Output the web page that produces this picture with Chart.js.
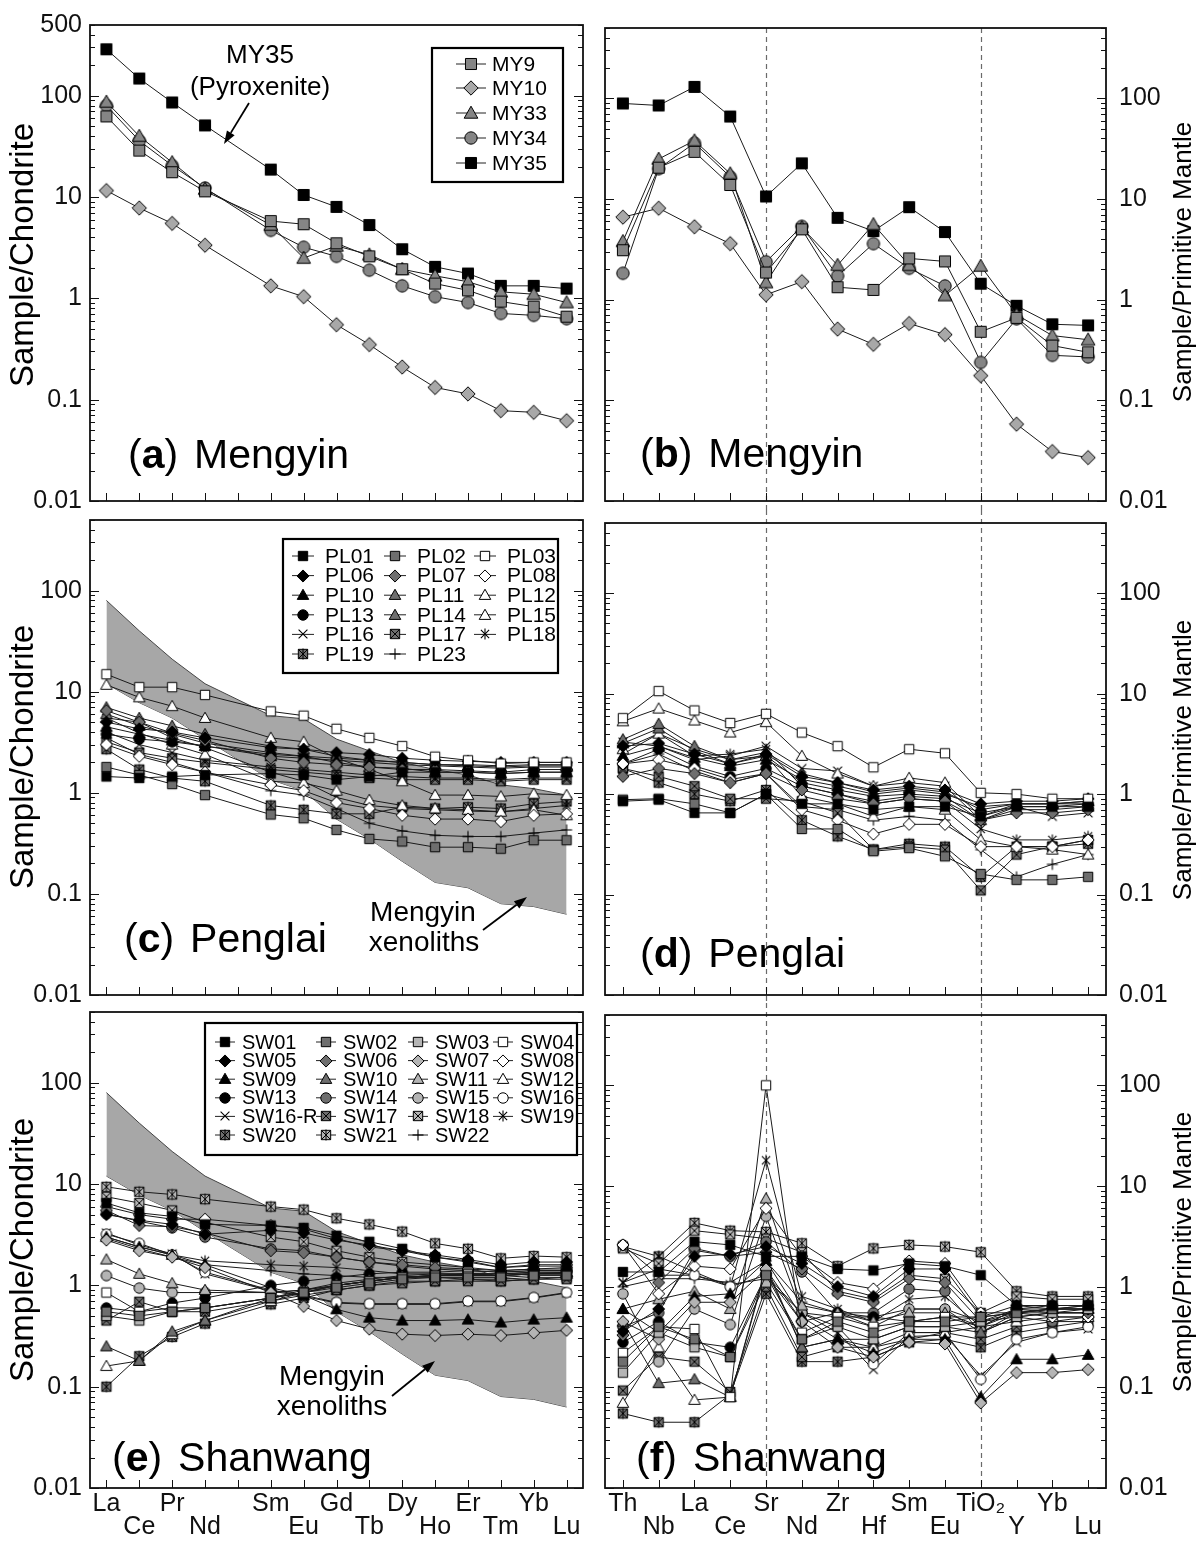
<!DOCTYPE html>
<html><head><meta charset="utf-8">
<script src="https://cdn.jsdelivr.net/npm/chart.js@4.4.1/dist/chart.umd.min.js"></script>
<style>
html,body{margin:0;padding:0;background:#fff;}
#wrap{position:relative;width:1204px;height:1545px;overflow:hidden;background:#fff;}
canvas{position:absolute;}
</style></head><body><div id="wrap">
<canvas id="ca"></canvas><canvas id="cb"></canvas><canvas id="cc"></canvas>
<canvas id="cd"></canvas><canvas id="ce"></canvas><canvas id="cf"></canvas>
</div>
<script>
// ---------- categories & tick labels ----------
const reeCats = ['La','Ce','Pr','Nd','Pm','Sm','Eu','Gd','Tb','Dy','Ho','Er','Tm','Yb','Lu'];
const reeTickRows = [['La',''],['','Ce'],['Pr',''],['','Nd'],['',''],['Sm',''],['','Eu'],['Gd',''],['','Tb'],['Dy',''],['','Ho'],['Er',''],['','Tm'],['Yb',''],['','Lu']];
const spiderCats = ['Th','Nb','La','Ce','Sr','Nd','Zr','Hf','Sm','Eu','TiO2','Y','Yb','Lu'];
const spiderTickRows = [['Th',''],['','Nb'],['La',''],['','Ce'],['Sr',''],['','Nd'],['Zr',''],['','Hf'],['Sm',''],['','Eu'],['TiO\u2082',''],['','Y'],['Yb',''],['','Lu']];
const yTicksTop = [0.01,0.1,1,10,100,500];
const yTicks = [0.01,0.1,1,10,100];

// ---------- Mengyin (a: chondrite-normalised REE, b: primitive-mantle spider) ----------
const MY9_ree  = [62.6,28.8,17.6,11.4,null,5.8,5.4,3.5,2.6,1.94,1.4,1.2,0.93,0.83,0.66];
const MY10_ree = [11.6,7.8,5.5,3.35,null,1.33,1.04,0.55,0.35,0.21,0.132,0.114,0.078,0.075,0.062];
const MY33_ree = [87,40,22,12,null,5.3,2.5,3.3,2.7,1.94,1.67,1.46,1.16,1.1,0.91];
const MY34_ree = [80,36,20.5,12.3,null,4.7,3.2,2.6,1.9,1.33,1.04,0.91,0.71,0.68,0.63];
const MY35_ree = [288,148,86,51,null,18.7,10.5,8.0,5.3,3.06,2.05,1.76,1.33,1.33,1.25];

const MY9_sp  = [3.1,20.5,29.4,13.8,1.86,5.0,1.33,1.25,2.57,2.4,0.48,0.66,0.35,0.3];
const MY10_sp = [6.6,8.1,5.3,3.6,1.12,1.51,0.51,0.36,0.58,0.45,0.176,0.058,0.031,0.027];
const MY33_sp = [3.8,25,38,17.9,1.48,5.2,2.2,5.6,2.2,1.1,2.16,0.71,0.44,0.4];
const MY34_sp = [1.83,20,36,16.6,2.38,5.35,1.72,3.6,2.05,1.37,0.238,0.645,0.28,0.27];
const MY35_sp = [89,85,130,66,10.6,22.6,6.5,4.8,8.3,4.7,1.44,0.87,0.57,0.555];

// Mengyin xenolith field (envelope)
const fieldUpper = [80,40,21,12,null,5.8,5.4,3.4,2.6,2.0,1.7,1.5,1.2,1.1,0.95];
const fieldLower = [12,7.8,5.5,3.4,null,1.35,1.05,0.55,0.35,0.21,0.13,0.115,0.08,0.075,0.063];

// ---------- Penglai ----------
const PL01_ree = [1.45,1.4,1.45,1.5,null,1.55,1.5,1.35,1.45,1.6,1.6,1.6,1.55,1.6,1.6];
const PL02_ree = [1.8,1.5,1.22,0.95,null,0.61,0.56,0.43,0.35,0.33,0.29,0.29,0.28,0.34,0.34];
const PL03_ree = [14.9,11.1,11.1,9.3,null,6.4,5.8,4.3,3.5,2.9,2.28,2.1,1.95,2.0,2.0];
const PL06_ree = [5.0,4.3,4.0,3.5,null,2.8,2.7,2.5,2.4,2.2,2.1,2.05,2.0,2.0,2.0];
const PL07_ree = [6.5,5.0,3.9,3.3,null,2.2,2.0,1.9,1.8,1.7,1.7,1.65,1.6,1.7,1.7];
const PL08_ree = [3.0,2.3,1.9,1.6,null,1.2,1.05,0.8,0.7,0.6,0.55,0.55,0.52,0.6,0.62];
const PL10_ree = [4.5,3.8,3.3,2.9,null,2.3,2.2,2.1,2.0,1.9,1.85,1.8,1.75,1.8,1.8];
const PL11_ree = [7.0,5.5,4.6,3.8,null,2.9,2.7,2.3,2.1,2.0,1.9,1.85,1.8,1.85,1.85];
const PL12_ree = [11.7,8.8,7.2,5.5,null,3.5,3.2,2.2,1.7,1.3,0.95,0.95,0.92,0.98,0.95];
const PL13_ree = [3.8,3.4,3.2,2.9,null,2.4,2.3,2.2,2.1,2.0,1.9,1.9,1.85,1.9,1.9];
const PL14_ree = [6.0,4.6,3.8,3.1,null,2.5,2.3,2.0,1.8,1.75,1.6,1.6,1.55,1.6,1.6];
const PL15_ree = [5.5,3.9,3.0,2.4,null,1.3,1.25,1.05,0.85,0.75,0.7,0.68,0.65,0.68,0.6];
const PL16_ree = [4.0,3.0,2.5,2.1,null,1.8,1.7,1.6,1.5,1.45,1.4,1.4,1.35,1.4,1.4];
const PL17_ree = [3.2,2.5,2.2,2.0,null,1.7,1.6,1.5,1.4,1.35,1.35,1.35,1.3,1.35,1.35];
const PL18_ree = [5.5,5.0,3.5,2.8,null,1.6,1.3,0.9,0.75,0.7,0.68,0.66,0.65,0.7,0.75];
const PL19_ree = [2.7,1.7,1.4,1.3,null,0.75,0.68,0.62,0.62,0.72,0.7,0.72,0.7,0.78,0.82];
const PL23_ree = [3.5,2.4,2.0,1.6,null,1.05,0.95,0.7,0.5,0.42,0.38,0.37,0.37,0.4,0.43];

const PL01_sp = [0.85,0.88,0.65,0.65,1.0,0.8,0.8,0.7,0.75,0.75,0.6,0.75,0.75,0.75];
const PL02_sp = [0.88,0.9,0.8,0.65,1.0,0.45,0.45,0.27,0.29,0.24,0.16,0.14,0.14,0.15];
const PL03_sp = [5.7,10.6,6.8,5.1,6.3,4.1,3.0,1.85,2.8,2.55,1.03,1.0,0.9,0.9];
const PL06_sp = [3.0,3.2,2.5,2.0,2.5,1.5,1.3,1.1,1.2,1.1,0.8,0.85,0.85,0.9];
const PL07_sp = [1.5,1.8,1.6,1.3,1.6,1.1,0.9,0.8,0.9,0.85,0.55,0.65,0.65,0.7];
const PL08_sp = [2.0,2.2,1.8,1.4,1.6,0.7,0.55,0.4,0.5,0.5,0.3,0.3,0.3,0.35];
const PL10_sp = [2.4,3.0,2.3,1.9,2.2,1.4,1.2,1.0,1.1,1.0,0.75,0.8,0.8,0.85];
const PL11_sp = [3.5,5.0,3.0,2.2,2.6,1.6,1.3,1.05,1.15,1.05,0.7,0.8,0.8,0.8];
const PL12_sp = [5.3,7.1,5.4,4.1,5.2,2.4,1.6,1.2,1.45,1.3,0.6,0.8,0.8,0.85];
const PL13_sp = [2.0,2.8,1.9,1.5,1.8,1.2,1.0,0.85,0.95,0.9,0.65,0.75,0.75,0.8];
const PL14_sp = [3.2,4.5,2.7,2.0,2.4,1.3,1.1,0.95,1.0,0.95,0.55,0.7,0.7,0.75];
const PL15_sp = [2.8,4.0,2.8,2.2,2.4,0.95,0.8,0.6,0.75,0.7,0.35,0.3,0.28,0.25];
const PL16_sp = [3.3,3.0,2.2,2.4,3.0,1.8,1.7,1.2,1.3,1.2,0.55,0.75,0.6,0.65];
const PL17_sp = [1.8,1.5,1.2,0.9,0.9,0.85,0.65,0.28,0.3,0.28,0.11,0.25,0.3,0.35];
const PL18_sp = [2.5,4.0,2.4,2.5,2.8,1.2,1.0,0.8,0.9,0.85,0.45,0.35,0.35,0.38];
const PL19_sp = [1.8,1.3,1.0,0.85,1.1,0.55,0.38,0.28,0.32,0.3,0.15,0.3,0.3,0.32];
const PL23_sp = [2.0,2.5,1.7,1.3,1.6,0.75,0.7,0.55,0.6,0.55,0.28,0.15,0.2,0.25];

// ---------- Shanwang ----------
const SW01_ree = [6.5,5.2,4.8,4.0,null,3.9,3.7,3.1,2.7,2.3,1.9,1.7,1.5,1.55,1.55];
const SW02_ree = [0.55,0.5,0.55,0.6,null,0.75,0.85,0.95,1.05,1.15,1.2,1.2,1.2,1.25,1.25];
const SW03_ree = [0.5,0.45,0.55,0.6,null,0.75,0.85,1.0,1.1,1.2,1.25,1.25,1.25,1.3,1.3];
const SW04_ree = [0.85,0.55,0.6,0.6,null,0.75,0.85,1.0,1.1,1.2,1.25,1.3,1.25,1.3,1.3];
const SW05_ree = [5.0,4.4,4.0,3.2,null,3.5,3.3,2.8,2.5,2.2,2.0,1.8,1.6,1.7,1.7];
const SW06_ree = [5.5,3.9,3.8,3.3,null,2.2,2.1,1.9,1.7,1.6,1.5,1.45,1.4,1.45,1.5];
const SW07_ree = [2.8,2.2,1.9,1.5,null,0.85,0.62,0.45,0.37,0.33,0.32,0.33,0.32,0.34,0.36];
const SW08_ree = [6.0,5.0,4.5,4.5,null,3.9,3.6,2.9,2.4,2.2,1.9,1.75,1.5,1.6,1.6];
const SW09_ree = [3.0,2.4,2.0,1.6,null,0.95,0.8,0.58,0.48,0.45,0.45,0.46,0.43,0.46,0.48];
const SW10_ree = [0.25,0.18,0.35,0.45,null,0.75,0.9,1.05,1.15,1.25,1.3,1.3,1.3,1.35,1.35];
const SW11_ree = [1.8,1.3,1.05,0.9,null,0.85,0.9,1.0,1.1,1.2,1.25,1.3,1.3,1.35,1.35];
const SW12_ree = [0.16,0.18,0.33,0.45,null,0.7,0.85,1.0,1.1,1.2,1.25,1.25,1.25,1.3,1.3];
const SW13_ree = [0.6,0.55,0.67,0.75,null,1.0,1.1,1.2,1.3,1.35,1.35,1.4,1.35,1.4,1.4];
const SW14_ree = [5.1,4.3,3.7,3.0,null,2.3,2.2,1.9,1.7,1.55,1.45,1.4,1.35,1.4,1.4];
const SW15_ree = [1.25,0.94,0.85,0.85,null,0.85,0.9,1.0,1.1,1.2,1.25,1.3,1.3,1.3,1.35];
const SW16_ree = [3.2,2.6,2.0,1.35,null,0.9,0.8,0.68,0.66,0.66,0.66,0.7,0.7,0.76,0.85];
const SW16R_ree = [3.3,2.5,2.05,1.3,null,0.88,0.78,0.67,0.65,0.65,0.65,0.69,0.69,0.75,0.84];
const SW17_ree = [0.45,0.69,0.55,0.55,null,0.7,0.8,0.9,1.0,1.05,1.1,1.1,1.1,1.15,1.15];
const SW18_ree = [7.5,6.5,5.5,4.2,null,3.0,2.7,2.2,1.9,1.7,1.6,1.5,1.4,1.45,1.45];
const SW19_ree = [3.0,2.4,2.0,1.75,null,1.6,1.55,1.5,1.4,1.3,1.3,1.3,1.25,1.3,1.3];
const SW20_ree = [0.1,0.2,0.31,0.42,null,0.65,0.75,0.9,1.0,1.1,1.1,1.15,1.1,1.15,1.2];
const SW21_ree = [9.4,8.4,7.9,7.1,null,6.0,5.6,4.6,4.0,3.4,2.6,2.3,1.85,1.95,1.9];
const SW22_ree = [2.9,2.3,1.9,1.6,null,1.4,1.3,1.25,1.2,1.2,1.2,1.15,1.15,1.2,1.2];

const SW01_sp = [1.4,1.4,2.8,2.6,2.0,2.0,1.5,1.45,1.7,1.6,1.3,0.65,0.65,0.65];
const SW02_sp = [0.18,0.4,0.3,0.2,1.3,0.3,0.45,0.35,0.45,0.45,0.5,0.55,0.6,0.65];
const SW03_sp = [0.14,0.35,0.25,0.2,1.1,0.3,0.4,0.3,0.4,0.4,0.45,0.5,0.55,0.6];
const SW04_sp = [0.22,0.4,0.38,0.08,100,0.35,0.5,0.4,0.45,0.5,0.5,0.55,0.6,0.6];
const SW05_sp = [0.36,0.6,2.0,2.1,2.5,1.7,1.0,0.8,1.5,1.5,0.5,0.65,0.6,0.6];
const SW06_sp = [0.33,1.1,2.4,2.0,2.2,1.5,0.85,0.7,1.2,1.1,0.45,0.6,0.55,0.55];
const SW07_sp = [0.45,0.3,0.7,0.7,1.5,0.45,0.25,0.2,0.28,0.27,0.07,0.14,0.14,0.15];
const SW08_sp = [2.6,0.85,1.6,1.5,6.0,2.0,1.1,0.95,1.8,1.7,0.55,0.55,0.5,0.5];
const SW09_sp = [0.6,0.35,0.8,0.85,1.8,0.5,0.3,0.22,0.3,0.3,0.08,0.19,0.19,0.21];
const SW10_sp = [0.45,0.11,0.12,0.08,1.6,0.25,0.3,0.3,0.4,0.4,0.35,0.5,0.55,0.55];
const SW11_sp = [0.6,0.75,0.9,0.6,7.5,0.65,0.55,0.45,0.55,0.55,0.4,0.55,0.6,0.6];
const SW12_sp = [0.07,0.25,0.075,0.08,1.5,0.25,0.3,0.25,0.35,0.35,0.4,0.45,0.5,0.5];
const SW13_sp = [0.28,0.45,0.28,0.25,1.3,0.45,0.55,0.5,0.45,0.5,0.4,0.6,0.65,0.65];
const SW14_sp = [0.4,0.55,2.3,2.0,2.8,1.4,0.55,0.55,0.95,0.9,0.35,0.5,0.45,0.5];
const SW15_sp = [0.85,0.18,0.6,0.42,5.0,0.55,0.5,0.5,0.6,0.6,0.45,0.55,0.6,0.6];
const SW16_sp = [2.6,1.3,1.3,1.0,1.3,0.55,0.4,0.17,0.35,0.35,0.12,0.3,0.35,0.4];
const SW16R_sp = [1.1,1.5,1.3,1.05,1.2,0.55,0.35,0.15,0.32,0.33,0.13,0.28,0.35,0.38];
const SW17_sp = [0.093,0.2,0.18,0.09,1.0,0.2,0.25,0.25,0.3,0.35,0.3,0.4,0.45,0.45];
const SW18_sp = [2.4,1.7,3.6,3.3,3.0,2.2,0.9,0.75,1.3,1.2,0.55,0.8,0.75,0.75];
const SW19_sp = [1.1,2.0,1.4,1.0,18,0.8,0.6,0.45,0.75,0.8,0.4,0.6,0.6,0.65];
const SW20_sp = [0.055,0.045,0.045,0.085,0.85,0.18,0.18,0.2,0.28,0.3,0.25,0.35,0.4,0.45];
const SW21_sp = [2.5,2.0,4.3,3.6,3.5,2.7,1.6,2.4,2.6,2.5,2.2,0.9,0.8,0.8];
const SW22_sp = [1.0,1.2,1.2,1.1,1.8,0.7,0.55,0.4,0.6,0.6,0.35,0.55,0.55,0.55];

// ---------- styles ----------
const FONT = "'Liberation Sans', Arial, Helvetica, sans-serif";
Chart.defaults.font.family = FONT;
Chart.defaults.color = '#111';
const BK='#000', DG='#6e6e6e', LG='#b4b4b4', WH='#ffffff', MG='#858585';

function makeMarker(shape, fill, s){
  const size = Math.ceil(s*1.2)+4, c = document.createElement('canvas');
  c.width = c.height = size;
  const g = c.getContext('2d'), m = size/2, h = s/2;
  g.lineWidth = 1; g.strokeStyle = '#000'; g.fillStyle = fill;
  const sq = () => { g.beginPath(); g.rect(m-h*0.85, m-h*0.85, h*1.7, h*1.7); g.fill(); g.stroke(); };
  const xs = r => { g.beginPath(); g.moveTo(m-r,m-r); g.lineTo(m+r,m+r); g.moveTo(m+r,m-r); g.lineTo(m-r,m+r); g.stroke(); };
  const vl = r => { g.beginPath(); g.moveTo(m,m-r); g.lineTo(m,m+r); g.stroke(); };
  const hl = r => { g.beginPath(); g.moveTo(m-r,m); g.lineTo(m+r,m); g.stroke(); };
  switch(shape){
    case 'square': sq(); break;
    case 'diamond': g.beginPath(); g.moveTo(m,m-h*1.1); g.lineTo(m+h*1.1,m); g.lineTo(m,m+h*1.1); g.lineTo(m-h*1.1,m); g.closePath(); g.fill(); g.stroke(); break;
    case 'triangle': g.beginPath(); g.moveTo(m,m-h*1.05); g.lineTo(m+h*1.05,m+h*0.8); g.lineTo(m-h*1.05,m+h*0.8); g.closePath(); g.fill(); g.stroke(); break;
    case 'circle': g.beginPath(); g.arc(m,m,h*0.95,0,Math.PI*2); g.fill(); g.stroke(); break;
    case 'x': g.lineWidth=1.1; xs(h*0.8); break;
    case 'plus': g.lineWidth=1.1; vl(h); hl(h); break;
    case 'ast': g.lineWidth=1.1; vl(h); xs(h*0.75); break;
    case 'sqx': sq(); xs(h*0.85); break;
    case 'sqast': sq(); xs(h*0.85); vl(h); break;
  }
  return c;
}

const styleMap = {
  MY9:['square',MG], MY10:['diamond','#a8a8a8'], MY33:['triangle',MG], MY34:['circle',MG], MY35:['square',BK],
  PL01:['square',BK], PL02:['square',DG], PL03:['square',WH], PL06:['diamond',BK], PL07:['diamond',DG], PL08:['diamond',WH],
  PL10:['triangle',BK], PL11:['triangle',DG], PL12:['triangle',WH], PL13:['circle',BK], PL14:['triangle',DG], PL15:['triangle',WH],
  PL16:['x',BK], PL17:['sqx',DG], PL18:['ast',BK], PL19:['sqast',DG], PL23:['plus',BK],
  SW01:['square',BK], SW02:['square',DG], SW03:['square',LG], SW04:['square',WH],
  SW05:['diamond',BK], SW06:['diamond',DG], SW07:['diamond',LG], SW08:['diamond',WH],
  SW09:['triangle',BK], SW10:['triangle',DG], SW11:['triangle',LG], SW12:['triangle',WH],
  SW13:['circle',BK], SW14:['circle',DG], SW15:['circle',LG], SW16:['circle',WH],
  'SW16-R':['x',BK], SW17:['sqx',DG], SW18:['sqx',LG], SW19:['ast',BK], SW20:['sqast',DG], SW21:['sqast',LG], SW22:['plus',BK]
};

function series(label, data, size){
  const st = styleMap[label];
  return {label, data, pointStyle: makeMarker(st[0], st[1], size), pointRadius:5,
    borderColor:'#1a1a1a', borderWidth:1, spanGaps:true, fill:false, tension:0};
}
function fieldSets(){
  return [
    {label:'_fu', data: fieldUpper, pointRadius:0, borderColor:'#444', borderWidth:1, spanGaps:true, tension:0, fill:'+1', backgroundColor:'#a7a7a7', order:10},
    {label:'_fl', data: fieldLower, pointRadius:0, borderColor:'#444', borderWidth:1, spanGaps:true, tension:0, fill:false, order:10}
  ];
}

// ---------- decoration plugin ----------
function drawArrow(ctx, a){
  ctx.save(); ctx.strokeStyle='#000'; ctx.fillStyle='#000'; ctx.lineWidth=1.8;
  const ang = Math.atan2(a.y2-a.y1, a.x2-a.x1), L=13, Wd=4.5;
  const bx = a.x2 - L*Math.cos(ang), by = a.y2 - L*Math.sin(ang);
  ctx.beginPath(); ctx.moveTo(a.x1,a.y1); ctx.lineTo(bx,by); ctx.stroke();
  ctx.beginPath(); ctx.moveTo(a.x2,a.y2);
  ctx.lineTo(bx + Wd*Math.sin(ang), by - Wd*Math.cos(ang));
  ctx.lineTo(bx - Wd*Math.sin(ang), by + Wd*Math.cos(ang)); ctx.closePath(); ctx.fill();
  ctx.restore();
}
const deco = {
  id:'deco',
  beforeDatasetsDraw(chart, args, o){
    if(!o.dashed) return;
    const ctx = chart.ctx, xs = chart.scales.x, ca = chart.chartArea;
    ctx.save(); ctx.strokeStyle='#6a6a6a'; ctx.lineWidth=1.2; ctx.setLineDash([5,4]);
    for(const i of o.dashed.idx){
      const x = Math.round(xs.getPixelForValue(i))+0.5;
      ctx.beginPath(); ctx.moveTo(x, o.dashed.top==null?ca.top:o.dashed.top); ctx.lineTo(x, o.dashed.bottom==null?ca.bottom:o.dashed.bottom); ctx.stroke();
    }
    ctx.restore();
  },
  afterDatasetsDraw(chart, args, o){
    const ctx = chart.ctx, ca = chart.chartArea, ys = chart.scales.y, xs = chart.scales.x;
    ctx.save();
    ctx.strokeStyle='#111'; ctx.lineWidth=1;
    for(let e=-2;e<=2;e++) for(let k=1;k<=9;k++){
      const v = k*Math.pow(10,e); if(v<0.0099||v>500.1) continue;
      const py = Math.round(ys.getPixelForValue(v))+0.5, len = k===1?9:5;
      ctx.beginPath(); ctx.moveTo(ca.left,py); ctx.lineTo(ca.left+len,py);
      ctx.moveTo(ca.right,py); ctx.lineTo(ca.right-len,py); ctx.stroke();
    }
    for(let i=0;i<chart.data.labels.length;i++){
      const px = Math.round(xs.getPixelForValue(i))+0.5;
      ctx.beginPath(); ctx.moveTo(px,ca.bottom); ctx.lineTo(px,ca.bottom-8); ctx.stroke();
    }
    ctx.lineWidth=1.8; ctx.strokeStyle='#111';
    ctx.strokeRect(ca.left, ca.top, ca.right-ca.left, ca.bottom-ca.top);
    if(o.legend){
      const L = o.legend, b = L.box;
      ctx.fillStyle='#fff'; ctx.fillRect(b[0],b[1],b[2]-b[0],b[3]-b[1]);
      ctx.lineWidth=2.2; ctx.strokeStyle='#000'; ctx.strokeRect(b[0],b[1],b[2]-b[0],b[3]-b[1]);
      ctx.font = L.font+'px '+FONT; ctx.textBaseline='middle'; ctx.textAlign='left'; ctx.fillStyle='#000';
      for(const it of L.items){
        const d = chart.data.datasets[it.ds];
        ctx.strokeStyle='#222'; ctx.lineWidth=1;
        ctx.beginPath(); ctx.moveTo(it.x-L.half, it.y); ctx.lineTo(it.x+L.half, it.y); ctx.stroke();
        const img = d.pointStyle; ctx.drawImage(img, Math.round(it.x-img.width/2), Math.round(it.y-img.height/2));
        ctx.fillText(d.label, it.x+L.dx, it.y+1);
      }
    }
    for(const t of (o.texts||[])){
      ctx.font = t.size+'px '+FONT; ctx.fillStyle='#000'; ctx.textAlign=t.align||'center'; ctx.textBaseline='middle';
      if(t.rot){ ctx.save(); ctx.translate(t.x,t.y); ctx.rotate(t.rot); ctx.fillText(t.t,0,0); ctx.restore(); }
      else ctx.fillText(t.t, t.x, t.y);
    }
    for(const a of (o.arrows||[])) drawArrow(ctx,a);
    if(o.panel){
      const p=o.panel; let cx=p.x; ctx.textAlign='left'; ctx.textBaseline='alphabetic'; ctx.fillStyle='#000';
      for(const [t,b] of [['(',0],[p.letter,1],[')',0]]){ ctx.font=(b?'bold ':'')+p.size+'px '+FONT; ctx.fillText(t,cx,p.y); cx+=ctx.measureText(t).width; }
      ctx.font=p.size+'px '+FONT; cx+=p.gap; ctx.fillText(p.name,cx,p.y);
    }
    ctx.restore();
  }
};

// ---------- layout ----------
const COLS = {L:{x:0,w:596,pl:0,pr:13,side:'left',axisW:90}, R:{x:596,w:608,pl:9,pr:0,side:'right',axisW:98}};
const ROWS = [{y:0,h:530,pt:25,pb:29,xh:0},{y:495,h:530,pt:25,pb:30,xh:0},{y:987,h:558,pt:25,pb:0,xh:57}];
const PANEL_FONT = 41, PANEL_GAP = 16;

function build(id, col, row, cats, tickRows, datasets, yt, deco0){
  const C = COLS[col], R = ROWS[row];
  const cv = document.getElementById(id);
  cv.width=C.w; cv.height=R.h; cv.style.left=C.x+'px'; cv.style.top=R.y+'px';
  const T = (x,y)=>[x-C.x, y-R.y];
  const o = deco0(T);
  new Chart(cv, {type:'line', data:{labels:cats, datasets},
    options:{responsive:false, animation:false, events:[],
      layout:{padding:{left:C.pl, right:C.pr, top:R.pt, bottom:R.pb}},
      plugins:{legend:{display:false}, tooltip:{enabled:false}, deco:o},
      scales:{
        x:{type:'category', offset:true, grid:{display:false, drawTicks:false}, border:{display:false},
           ticks:{display:R.xh>0, autoSkip:false, maxRotation:0, minRotation:0, padding:5, color:'#111',
                  font:{size:25, lineHeight:'23px'}, callback:(v,i)=>tickRows[i]},
           afterFit:s=>{ s.height = R.xh; }},
        y:{type:'logarithmic', position:C.side, min:0.01, max:500, grid:{display:false, drawTicks:false}, border:{display:false},
           afterBuildTicks:ax=>{ ax.ticks = yt.map(v=>({value:v})); },
           ticks:{autoSkip:false, padding: C.side==='left'?8:13, color:'#111', font:{size:25}, callback:v=>String(v)},
           afterFit:s=>{ s.width = C.axisW; }}
      }}, plugins:[deco]});
}
function P(T,x,y){ const r=T(x,y); return {x:r[0], y:r[1]}; }
function titleL(T,y){ const p=P(T,24,y); return {t:'Sample/Chondrite', x:p.x, y:p.y, size:33, rot:-Math.PI/2}; }
function titleR(T,y){ const p=P(T,1184,y); return {t:'Sample/Primitive Mantle', x:p.x, y:p.y, size:26, rot:-Math.PI/2}; }
function legendGrid(T, names, cols, rows){
  const items=[]; names.forEach((n,i)=>{ const p=P(T, cols[i%cols.length], rows[Math.floor(i/cols.length)]); items.push({ds:i, x:p.x, y:p.y}); });
  return items;
}
function boxT(T,b){ const a=T(b[0],b[1]), c=T(b[2],b[3]); return [a[0],a[1],c[0],c[1]]; }
function arrowT(T,x1,y1,x2,y2){ const a=P(T,x1,y1), b=P(T,x2,y2); return {x1:a.x,y1:a.y,x2:b.x,y2:b.y}; }

// (a)
const MYnames=['MY9','MY10','MY33','MY34','MY35'];
build('ca','L',0, reeCats, reeTickRows,
  [series('MY9',MY9_ree,13),series('MY10',MY10_ree,13),series('MY33',MY33_ree,13),series('MY34',MY34_ree,13),series('MY35',MY35_ree,13)],
  yTicksTop, T=>({
    legend:{box:boxT(T,[432,48,563,182]), font:21, half:15, dx:21, items:legendGrid(T,MYnames,[471],[64,88,113,138,163])},
    texts:[titleL(T,255), Object.assign({t:'MY35',size:26},P(T,260,56)), Object.assign({t:'(Pyroxenite)',size:26},P(T,260,88))],
    arrows:[arrowT(T,249,103,224,144)],
    panel:Object.assign({letter:'a', name:'Mengyin', size:PANEL_FONT, gap:PANEL_GAP}, P(T,128,468))
  }));
// (b)
build('cb','R',0, spiderCats, spiderTickRows,
  [series('MY9',MY9_sp,13),series('MY10',MY10_sp,13),series('MY33',MY33_sp,13),series('MY34',MY34_sp,13),series('MY35',MY35_sp,13)],
  yTicks, T=>({
    dashed:{idx:[4,10], top:null, bottom:T(0,511)[1]},
    texts:[titleR(T,262)],
    panel:Object.assign({letter:'b', name:'Mengyin', size:PANEL_FONT, gap:PANEL_GAP}, P(T,640,467))
  }));
// (c)
const PLnames=['PL01','PL02','PL03','PL06','PL07','PL08','PL10','PL11','PL12','PL13','PL14','PL15','PL16','PL17','PL18','PL19','PL23'];
const PLree=[PL01_ree,PL02_ree,PL03_ree,PL06_ree,PL07_ree,PL08_ree,PL10_ree,PL11_ree,PL12_ree,PL13_ree,PL14_ree,PL15_ree,PL16_ree,PL17_ree,PL18_ree,PL19_ree,PL23_ree];
const PLsp=[PL01_sp,PL02_sp,PL03_sp,PL06_sp,PL07_sp,PL08_sp,PL10_sp,PL11_sp,PL12_sp,PL13_sp,PL14_sp,PL15_sp,PL16_sp,PL17_sp,PL18_sp,PL19_sp,PL23_sp];
build('cc','L',1, reeCats, reeTickRows,
  PLnames.map((n,i)=>series(n,PLree[i],11)).concat(fieldSets()),
  yTicks, T=>({
    legend:{box:boxT(T,[283,539,558,673]), font:21, half:11, dx:22, items:legendGrid(T,PLnames,[303,395,485],[556,575.6,595.2,614.8,634.4,654])},
    texts:[titleL(T,757), Object.assign({t:'Mengyin',size:28},P(T,423,913)), Object.assign({t:'xenoliths',size:28},P(T,424,943))],
    arrows:[arrowT(T,483,930,527,897)],
    panel:Object.assign({letter:'c', name:'Penglai', size:PANEL_FONT, gap:PANEL_GAP}, P(T,124,952))
  }));
// (d)
build('cd','R',1, spiderCats, spiderTickRows,
  PLnames.map((n,i)=>series(n,PLsp[i],11)),
  yTicks, T=>({
    dashed:{idx:[4,10], top:T(0,510)[1], bottom:T(0,1004)[1]},
    texts:[titleR(T,760)],
    panel:Object.assign({letter:'d', name:'Penglai', size:PANEL_FONT, gap:PANEL_GAP}, P(T,640,967))
  }));
// (e)
const SWnames=['SW01','SW02','SW03','SW04','SW05','SW06','SW07','SW08','SW09','SW10','SW11','SW12','SW13','SW14','SW15','SW16','SW16-R','SW17','SW18','SW19','SW20','SW21','SW22'];
const SWree=[SW01_ree,SW02_ree,SW03_ree,SW04_ree,SW05_ree,SW06_ree,SW07_ree,SW08_ree,SW09_ree,SW10_ree,SW11_ree,SW12_ree,SW13_ree,SW14_ree,SW15_ree,SW16_ree,SW16R_ree,SW17_ree,SW18_ree,SW19_ree,SW20_ree,SW21_ree,SW22_ree];
const SWsp=[SW01_sp,SW02_sp,SW03_sp,SW04_sp,SW05_sp,SW06_sp,SW07_sp,SW08_sp,SW09_sp,SW10_sp,SW11_sp,SW12_sp,SW13_sp,SW14_sp,SW15_sp,SW16_sp,SW16R_sp,SW17_sp,SW18_sp,SW19_sp,SW20_sp,SW21_sp,SW22_sp];
build('ce','L',2, reeCats, reeTickRows,
  SWnames.map((n,i)=>series(n,SWree[i],11)).concat(fieldSets()),
  yTicks, T=>({
    legend:{box:boxT(T,[205,1023,577,1155]), font:20, half:10, dx:17, items:legendGrid(T,SWnames,[225,326,418,503],[1042,1060.6,1079.2,1097.8,1116.4,1135])},
    texts:[titleL(T,1250), Object.assign({t:'Mengyin',size:28},P(T,332,1377)), Object.assign({t:'xenoliths',size:28},P(T,332,1407))],
    arrows:[arrowT(T,392,1396,435,1361)],
    panel:Object.assign({letter:'e', name:'Shanwang', size:PANEL_FONT, gap:PANEL_GAP}, P(T,112,1471))
  }));
// (f)
build('cf','R',2, spiderCats, spiderTickRows,
  SWnames.map((n,i)=>series(n,SWsp[i],11)),
  yTicks, T=>({
    dashed:{idx:[4,10], top:T(0,1003)[1], bottom:null},
    texts:[titleR(T,1252)],
    panel:Object.assign({letter:'f', name:'Shanwang', size:PANEL_FONT, gap:PANEL_GAP}, P(T,636,1471))
  }));
</script>
</body></html>
